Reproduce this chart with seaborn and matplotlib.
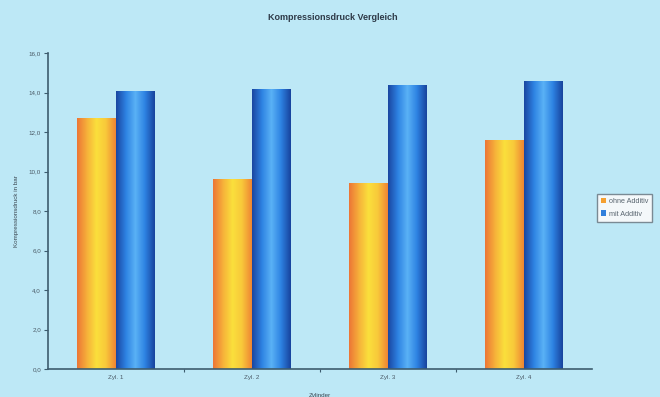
import numpy as np
import pandas as pd
import matplotlib
matplotlib.use("Agg")
import matplotlib.pyplot as plt
from matplotlib.colors import LinearSegmentedColormap
from matplotlib.ticker import FuncFormatter, FixedLocator
import seaborn as sns

# Compression pressure per cylinder, with and without additive (bar)
zylinder = ["Zyl. 1", "Zyl. 2", "Zyl. 3", "Zyl. 4"]
ohne_additiv = [12.7, 9.6, 9.4, 11.6]
mit_additiv = [14.1, 14.2, 14.4, 14.6]
serien = ["ohne Additiv", "mit Additiv"]

df = pd.DataFrame({
    "Zylinder": zylinder * 2,
    "Druck": ohne_additiv + mit_additiv,
    "Serie": [serien[0]] * 4 + [serien[1]] * 4,
})

bg = "#bde8f6"
sns.set_theme(style="white", rc={"axes.facecolor": bg, "figure.facecolor": bg})
plt.rcParams["font.family"] = ["Liberation Sans", "DejaVu Sans"]

fig = plt.figure(figsize=(6.6, 3.97), dpi=100)
ax = fig.add_axes([48 / 660, 1 - 369 / 397, (592 - 48) / 660, (369 - 53) / 397])

palette = {serien[0]: "#f5a030", serien[1]: "#2f7fdc"}
sns.barplot(data=df, x="Zylinder", y="Druck", hue="Serie", hue_order=serien,
            palette=palette, width=0.57, gap=0, saturation=1,
            edgecolor="none", ax=ax, legend=True)

# Cylindrical shading: horizontal gradient clipped to each bar
cmaps = {
    serien[0]: LinearSegmentedColormap.from_list(
        "o", ["#ec7636", "#f6b03a", "#fbe03c", "#f8c83a", "#ee8634"]),
    serien[1]: LinearSegmentedColormap.from_list(
        "b", ["#1a47a2", "#2d82e2", "#5ab2f6", "#2d82e2", "#18449e"]),
}
grad = np.linspace(0, 1, 64).reshape(1, -1)
n = len(zylinder)
for i, patch in enumerate(ax.patches[:2 * n]):
    serie = serien[i // n]
    x0, y0 = patch.get_x(), patch.get_y()
    w, h = patch.get_width(), patch.get_height()
    im = ax.imshow(grad, cmap=cmaps[serie], aspect="auto",
                   extent=[x0, x0 + w, y0, y0 + h], zorder=patch.get_zorder() + 0.1)
    im.set_clip_path(patch)

ax.set_xlim(-0.5, n - 0.5)
ax.set_ylim(0, 16)
ax.yaxis.set_major_locator(FixedLocator(np.arange(0, 16.1, 2)))
ax.yaxis.set_major_formatter(FuncFormatter(lambda v, p: f"{v:.1f}".replace(".", ",")))

spine_c = "#3d5c6e"
for s in ["top", "right"]:
    ax.spines[s].set_visible(False)
for s in ["left", "bottom"]:
    ax.spines[s].set_color(spine_c)
    ax.spines[s].set_linewidth(1.2)

ax.tick_params(axis="y", which="major", direction="out", length=3, width=0.8,
               color=spine_c, labelsize=4.5, labelcolor="#4a5a66", pad=2, left=True)
# Category labels centred, tick marks on category boundaries
ax.set_xticks(range(n))
ax.set_xticklabels(zylinder)
ax.tick_params(axis="x", which="major", length=0, labelsize=4.5,
               labelcolor="#4a5a66", pad=4)
ax.set_xticks(np.arange(0.5, n - 1, 1), minor=True)
ax.tick_params(axis="x", which="minor", direction="out", length=2.5, width=0.8,
               color=spine_c, bottom=True)

ax.set_ylabel("Kompressionsdruck in bar", fontsize=4.5, color="#3a4650", labelpad=7)
ax.set_xlabel("Zylinder", fontsize=4.5, color="#3a4650", labelpad=10)

fig.text(0.505, 1 - 18 / 397, "Kompressionsdruck Vergleich", ha="center", va="center",
         fontsize=6.5, fontweight="bold", color="#2e3a48")

handles, labels = ax.get_legend_handles_labels()
ax.legend(handles, labels, loc="upper left", bbox_to_anchor=(597 / 660, 1 - 194 / 397),
          bbox_transform=fig.transFigure, fontsize=5.2, frameon=True, fancybox=False,
          edgecolor="#7a8a94", facecolor="#f4f8fa", framealpha=1,
          handlelength=0.7, handleheight=0.7, handletextpad=0.3,
          borderpad=0.6, labelspacing=0.7, borderaxespad=0, labelcolor="#5a6670")

fig.savefig("out.png", dpi=100, facecolor=bg)
